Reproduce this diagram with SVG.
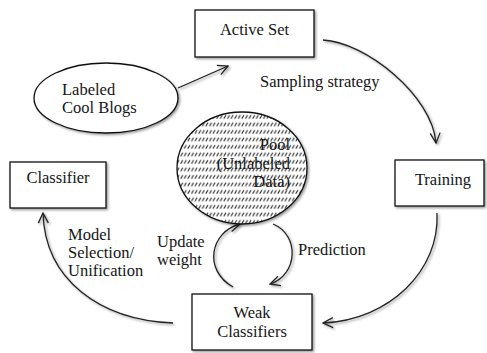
<svg xmlns="http://www.w3.org/2000/svg" width="487" height="353" viewBox="0 0 487 353">
<style>
text{font-family:"Liberation Serif","Times New Roman",serif;font-size:16.5px;fill:#151515}
.box{fill:#fff;stroke:#111;stroke-width:1.3}
.edge{fill:none;stroke:#222;stroke-width:1.3}
.mid{text-anchor:middle}
.end{text-anchor:end}
</style>
<defs>
<filter id="sh" x="-10%" y="-10%" width="130%" height="130%">
<feDropShadow dx="1.5" dy="1.5" stdDeviation="1" flood-color="#000" flood-opacity="0.4"/>
</filter>
<pattern id="hatch" width="3.6" height="7.5" patternUnits="userSpaceOnUse">
<rect width="3.6" height="7.5" fill="#fff"/>
<path d="M0.6,6.2 L2.8,2.6" stroke="#222" stroke-width="1"/>
</pattern>
<marker id="arr" viewBox="0 0 12 12" refX="11" refY="6" markerWidth="12" markerHeight="12" markerUnits="userSpaceOnUse" orient="auto">
<path d="M1,1 L11,6 L1,11" fill="none" stroke="#222" stroke-width="1.3"/>
</marker>
</defs>
<g id="connectors">
<path class="edge" d="M178,88 L228,66" marker-end="url(#arr)" filter="url(#sh)"/>
<path class="edge" d="M251,112 L251,58" marker-end="url(#arr)" filter="url(#sh)"/>
<path class="edge" d="M323,40 C365,42 432,95 436,143" marker-end="url(#arr)" filter="url(#sh)"/>
<path class="edge" d="M437,213 C440,270 390,320 323,323" marker-end="url(#arr)" filter="url(#sh)"/>
<path class="edge" d="M173,323 C100,320 45,280 43,213" marker-end="url(#arr)" filter="url(#sh)"/>
<path class="edge" d="M233,287 C203,270 210,232 240,224" marker-end="url(#arr)" filter="url(#sh)"/>
<path class="edge" d="M273,224 C300,235 298,275 270,284" marker-end="url(#arr)" filter="url(#sh)"/>
<text x="260" y="87">Sampling strategy</text>
<text x="68" y="240">Model</text>
<text x="68" y="258">Selection/</text>
<text x="68" y="276">Unification</text>
<text x="157" y="247">Update</text>
<text x="157" y="265">weight</text>
<text x="298" y="255">Prediction</text>
</g>
<g id="active-set">
<rect class="box" x="195" y="10" width="119" height="47" filter="url(#sh)"/>
<text class="mid" x="254.5" y="35">Active Set</text>
</g>
<g id="labeled-cool-blogs">
<ellipse class="box" cx="106" cy="98" rx="72" ry="35" filter="url(#sh)"/>
<text x="62" y="95">Labeled</text>
<text x="62" y="113">Cool Blogs</text>
</g>
<g id="pool">
<ellipse cx="242" cy="168" rx="65" ry="56" fill="url(#hatch)" stroke="#111" stroke-width="1.3" filter="url(#sh)"/>
<text class="end" x="290" y="150">Pool</text>
<text class="end" x="290" y="169">(Unlabeled</text>
<text class="end" x="290" y="187">Data)</text>
</g>
<g id="classifier">
<rect class="box" x="10" y="162" width="96" height="46" filter="url(#sh)"/>
<text class="mid" x="58" y="183">Classifier</text>
</g>
<g id="training">
<rect class="box" x="395" y="160" width="89" height="46" filter="url(#sh)"/>
<text class="mid" x="443" y="185">Training</text>
</g>
<g id="weak-classifiers">
<rect class="box" x="192" y="294" width="120" height="56" filter="url(#sh)"/>
<text class="mid" x="252" y="318">Weak</text>
<text class="mid" x="252" y="337">Classifiers</text>
</g>
</svg>
